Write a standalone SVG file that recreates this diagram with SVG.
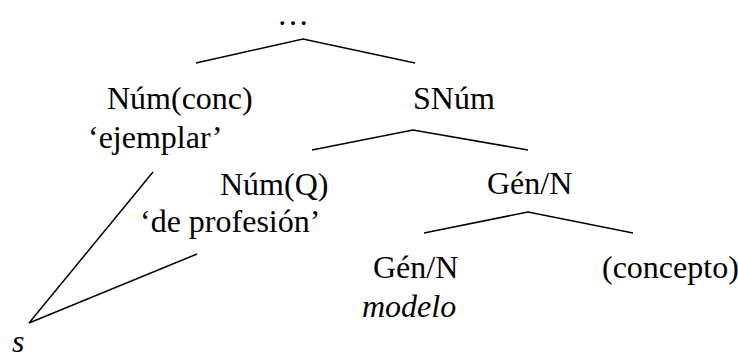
<svg xmlns="http://www.w3.org/2000/svg" width="738" height="356" viewBox="0 0 738 356">
<style>
text{font-size:32px;fill:#000}
.i{font-style:italic}
.e{fill:none;stroke:#000;stroke-width:1.5}
</style>
<rect width="738" height="356" fill="#fff"/>
<g id="connectors">
<polyline class="e" points="196,63 303,39 415,63"/>
<polyline class="e" points="312,150 413,130 528,150"/>
<polyline class="e" points="424,233 528,212 633,233"/>
<polyline class="e" points="153,172 29,323 197,254"/>
</g>
<g font-family="'Liberation Serif', 'Times New Roman', Times, serif">
<g id="n-top"><text x="293" y="25" text-anchor="middle">…</text></g>
<g id="n-numconc"><text x="107" y="109">Núm(conc)</text><text x="88" y="148">‘ejemplar’</text></g>
<g id="n-snum"><text x="413" y="109">SNúm</text></g>
<g id="n-numq"><text x="220" y="195">Núm(Q)</text><text x="140" y="232">‘de profesión’</text></g>
<g id="n-gen1"><text x="487" y="194">Gén/N</text></g>
<g id="n-gen2"><text x="373" y="278">Gén/N</text><text class="i" x="362" y="317">modelo</text></g>
<g id="n-concepto"><text x="602" y="278">(concepto)</text></g>
<g id="n-s"><text class="i" x="12" y="352">s</text></g>
</g>
</svg>
